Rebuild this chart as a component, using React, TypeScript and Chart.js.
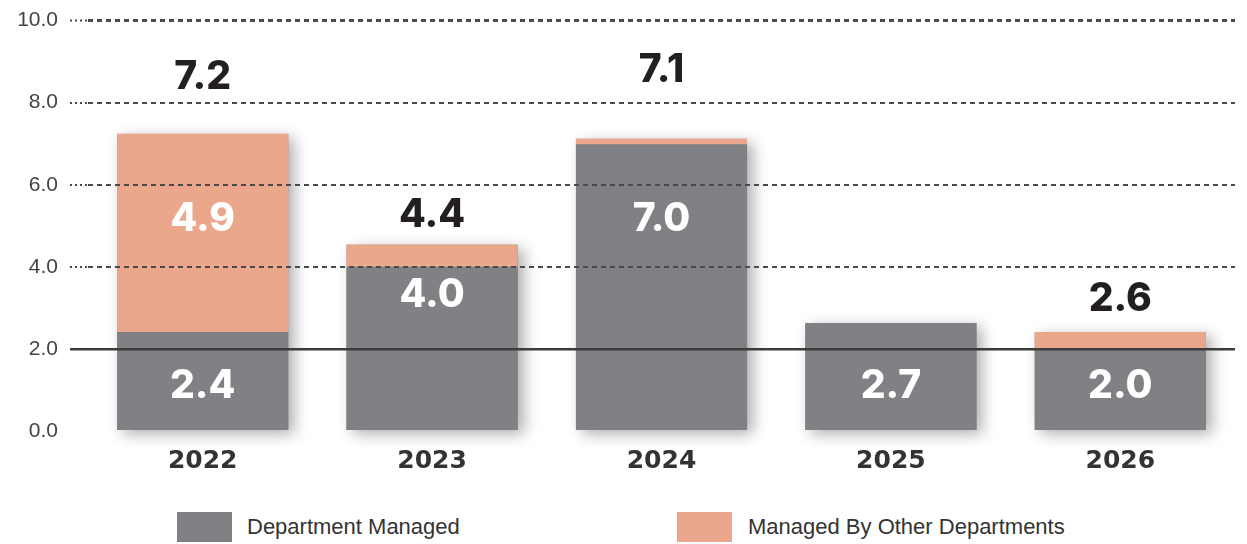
import React, { useEffect, useRef } from 'react';
import { Chart, registerables } from 'chart.js';

Chart.register(...registerables);

// ---------- data ----------
const categories = ['2022', '2023', '2024', '2025', '2026'];
const departmentManaged = [2.41, 4.0, 6.98, 2.63, 1.98];
const otherDepartments = [4.83, 0.54, 0.14, 0, 0.43];
const departmentLabels = ['2.4', '4.0', '7.0', '2.7', '2.0'];
const otherLabels = ['4.9', '', '', '', ''];
const totalLabels = ['7.2', '4.4', '7.1', '', '2.6'];
const seriesNames = ['Department Managed', 'Managed By Other Departments'];

// ---------- style ----------
const GRAY = '#808184';
const SALMON = '#EBA78C';
const GRID = '#4a4a4a';
const ZERO_LINE = '#3c3c3c';
// label rows, in axis units
const deptLabelRow = [1.1, 3.3, 5.17, 1.1, 1.1];
const otherLabelRow = [5.17, 0, 0, 0, 0];
const totalLabelRow = [8.62, 5.25, 8.78, 0, 3.22];

const shadowPlugin = {
  id: 'barShadow',
  beforeDatasetsDraw(chart: any) {
    const ctx = chart.ctx;
    const m0 = chart.getDatasetMeta(0);
    const m1 = chart.getDatasetMeta(1);
    ctx.save();
    ctx.shadowColor = 'rgba(0,0,0,0.32)';
    ctx.shadowBlur = 14;
    ctx.shadowOffsetX = 6;
    ctx.shadowOffsetY = 4;
    ctx.fillStyle = GRAY;
    categories.forEach((_, i) => {
      const a = m0.data[i];
      const b = m1.data[i];
      const top = Math.min(a.y, b.y, a.base);
      const bottom = a.base;
      ctx.fillRect(a.x - a.width / 2, top, a.width, bottom - top);
    });
    ctx.restore();
  },
};

const labelPlugin = {
  id: 'valueLabels',
  afterDraw(chart: any) {
    const ctx = chart.ctx;
    const ys = chart.scales.y;
    const m0 = chart.getDatasetMeta(0);
    ctx.save();
    ctx.textAlign = 'center';
    ctx.textBaseline = 'middle';
    ctx.font = '800 39px Inter, "DejaVu Sans", sans-serif';
    categories.forEach((_, i) => {
      const x = m0.data[i].x;
      if (departmentLabels[i]) {
        ctx.fillStyle = '#ffffff';
        ctx.fillText(departmentLabels[i], x, ys.getPixelForValue(deptLabelRow[i]));
      }
      if (otherLabels[i]) {
        ctx.fillStyle = '#ffffff';
        ctx.fillText(otherLabels[i], x, ys.getPixelForValue(otherLabelRow[i]));
      }
      if (totalLabels[i]) {
        ctx.fillStyle = '#231f20';
        ctx.fillText(totalLabels[i], x, ys.getPixelForValue(totalLabelRow[i]));
      }
    });
    ctx.restore();
  },
};

const tickVal = (c: any) => (c && c.tick ? c.tick.value : -1);

export default function App() {
  const canvasRef = useRef<HTMLCanvasElement | null>(null);

  useEffect(() => {
    if (!canvasRef.current) return;
    const chart = new Chart(canvasRef.current, {
      type: 'bar',
      data: {
        labels: categories,
        datasets: [
          {
            label: seriesNames[0],
            data: departmentManaged,
            backgroundColor: GRAY,
            borderWidth: 0,
            barPercentage: 0.746,
            categoryPercentage: 1,
          },
          {
            label: seriesNames[1],
            data: otherDepartments,
            backgroundColor: SALMON,
            borderWidth: 0,
            barPercentage: 0.746,
            categoryPercentage: 1,
          },
        ],
      },
      options: {
        animation: false,
        responsive: false,
        maintainAspectRatio: false,
        layout: { padding: { top: 1, right: 12, bottom: 0, left: 0 } },
        plugins: {
          legend: { display: false },
          tooltip: { enabled: false },
        },
        scales: {
          x: {
            stacked: true,
            grid: { display: false },
            border: { display: false },
            ticks: {
              padding: 7,
              color: '#333333',
              font: { family: '"DejaVu Sans", sans-serif', weight: 'bold', size: 25 },
            },
          },
          y: {
            stacked: true,
            min: 0,
            max: 10,
            afterFit: (s: any) => {
              s.width = 88;
            },
            ticks: {
              stepSize: 2,
              padding: 12,
              color: '#444444',
              font: { family: '"Liberation Sans Narrow", "Liberation Sans", sans-serif', size: 21 },
              callback: (v: any) => Number(v).toFixed(1),
            },
            grid: {
              z: 1,
              drawTicks: true,
              tickLength: 18,
              color: (c: any) => {
                const v = tickVal(c);
                if (v === 0) return 'rgba(0,0,0,0)';
                return v === 2 ? ZERO_LINE : GRID;
              },
              tickColor: (c: any) => {
                const v = tickVal(c);
                if (v === 0) return 'rgba(0,0,0,0)';
                return v === 2 ? ZERO_LINE : GRID;
              },
              lineWidth: (c: any) => {
                const v = tickVal(c);
                if (v === 10) return 3;
                return v === 2 ? 2.5 : 2;
              },
              tickWidth: (c: any) => (tickVal(c) === 2 ? 2.5 : 2),
              tickBorderDash: (c: any) => (tickVal(c) === 2 ? [] : [2, 3]),
            },
            border: {
              display: false,
              dash: (c: any) => (tickVal(c) === 2 ? [] : [5, 4]),
            },
          },
        },
      },
      plugins: [shadowPlugin, labelPlugin],
    } as any);
    return () => chart.destroy();
  }, []);

  const legendText: React.CSSProperties = {
    position: 'absolute',
    top: 512,
    height: 30,
    lineHeight: '30px',
    fontFamily: '"Liberation Sans Narrow", "Liberation Sans", sans-serif',
    fontSize: 22,
    color: '#333333',
    whiteSpace: 'nowrap',
  };

  return (
    <div style={{ position: 'fixed', left: 0, top: 0, width: 1247, height: 544, background: '#ffffff', overflow: 'hidden' }}>
      <canvas ref={canvasRef} width={1247} height={487} style={{ position: 'absolute', left: 0, top: -4 }} />
      <div style={{ position: 'absolute', left: 177, top: 512, width: 55, height: 30, background: GRAY }} />
      <div style={{ ...legendText, left: 247 }}>{seriesNames[0]}</div>
      <div style={{ position: 'absolute', left: 677, top: 512, width: 55, height: 30, background: SALMON }} />
      <div style={{ ...legendText, left: 748 }}>{seriesNames[1]}</div>
    </div>
  );
}
